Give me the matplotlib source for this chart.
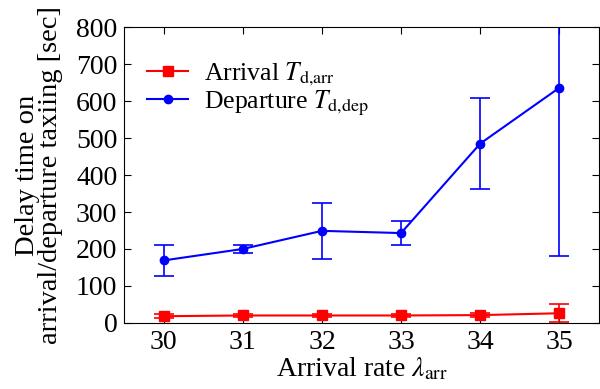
import matplotlib
matplotlib.use("Agg")
import matplotlib.pyplot as plt

plt.rcParams["font.family"] = "Liberation Serif"
plt.rcParams["mathtext.fontset"] = "stix"

rate = [30, 31, 32, 33, 34, 35]
arr_delay = [18, 20, 20, 20, 21, 26]
arr_err = [5, 4, 5, 5, 5, 24]
dep_delay = [169, 200, 249, 243, 485, 636]
dep_err = [42, 10, 75, 33, 124, 455]

fig, ax = plt.subplots(figsize=(6, 3.89), dpi=100)
# error bars first, then the lines that go into the legend
ax.errorbar(rate, arr_delay, yerr=arr_err, color="red", fmt="none",
            capsize=7, capthick=1.2, elinewidth=1.2)
ax.errorbar(rate, dep_delay, yerr=dep_err, color="blue", fmt="none",
            capsize=7, capthick=1.2, elinewidth=1.2)
ax.plot(rate, arr_delay, color="red", marker="s", markersize=7, lw=1.5,
        label=r"Arrival $T_{\rm d{,}arr}$")
ax.plot(rate, dep_delay, color="blue", marker="o", markersize=6, lw=1.5,
        label=r"Departure $T_{\rm d{,}dep}$")

ax.set_xlim(29.5, 35.5)
ax.set_ylim(0, 800)
ax.set_xticks(rate)
ax.set_yticks(range(0, 801, 100))
ax.tick_params(direction="in", top=True, right=True, labelsize=20, length=5, pad=5)
ax.set_xlabel(r"Arrival rate $\lambda_{\rm arr}$", fontsize=20, labelpad=1)
ax.set_ylabel("Delay time on\narrival/departure taxiing [sec]", fontsize=20.5,
              labelpad=9, linespacing=0.9)
ax.legend(loc="upper left", frameon=False, fontsize=18.5, handlelength=1.6,
          borderaxespad=0.5, labelspacing=0.0, handletextpad=0.6,
          bbox_to_anchor=(0.0, 0.965))

fig.subplots_adjust(left=0.207, right=0.998, top=0.93, bottom=0.17)
fig.savefig("out.png")
